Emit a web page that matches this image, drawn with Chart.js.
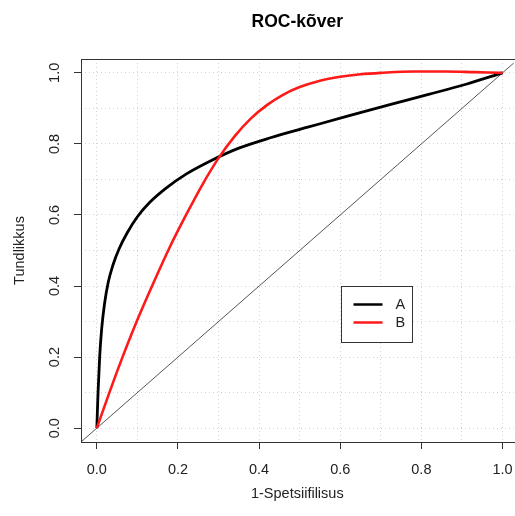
<!DOCTYPE html>
<html lang="et">
<head>
<meta charset="UTF-8">
<title>ROC-kõver</title>
<script src="https://cdn.jsdelivr.net/npm/chart.js@4.4.0/dist/chart.umd.min.js"></script>
<style>
  html, body { margin: 0; padding: 0; background: #fff; }
  canvas { display: block; }
</style>
</head>
<body>
<canvas id="roc" width="515" height="516"></canvas>
<script>
// kõver A
var fprA = [0, 0.003, 0.007, 0.012, 0.019, 0.028, 0.04, 0.055, 0.075, 0.1, 0.13, 0.17, 0.22, 0.28, 0.35, 0.43, 0.52, 0.62, 0.72, 0.82, 0.91, 1.0];
var tprA = [0, 0.1, 0.2, 0.28, 0.35, 0.41, 0.46, 0.505, 0.55, 0.595, 0.635, 0.675, 0.715, 0.752, 0.788, 0.818, 0.847, 0.879, 0.91, 0.94, 0.968, 1.0];
// kõver B
var fprB = [0, 0.03, 0.06, 0.1, 0.14, 0.18, 0.22, 0.26, 0.3, 0.34, 0.38, 0.42, 0.46, 0.5, 0.55, 0.6, 0.65, 0.7, 0.78, 0.86, 0.93, 1.0];
var tprB = [0, 0.097, 0.19, 0.305, 0.41, 0.51, 0.60, 0.685, 0.76, 0.822, 0.872, 0.91, 0.939, 0.96, 0.978, 0.989, 0.996, 1.0, 1.004, 1.004, 1.002, 1.0];
// diagonaal y = x
var diag = [-0.04, 1.04];

var seriesNames = ['A', 'B'];
var tickValues = [0, 0.2, 0.4, 0.6, 0.8, 1.0];
var tickLabels = ['0.0', '0.2', '0.4', '0.6', '0.8', '1.0'];
var gridValues = [0, 0.1, 0.2, 0.3, 0.4, 0.5, 0.6, 0.7, 0.8, 0.9, 1.0];
// R-i usr vahemik (4% laiendus)
var xUsr = [-0.039, 1.039];
var yUsr = [-0.039, 1.039];

var FONT = '"Liberation Sans", Arial, Helvetica, sans-serif';

function pts(xs, ys) {
    var out = [];
    for (var i = 0; i < xs.length; i++) out.push({x: xs[i], y: ys[i]});
    return out;
}
function tickIndex(v) {
    for (var i = 0; i < tickValues.length; i++) {
        if (Math.abs(tickValues[i] - v) < 1e-9) return i;
    }
    return -1;
}
function gridTicks(scale) {
    scale.ticks = gridValues.map(function (v) { return {value: v}; });
}

function axis(extra) {
    var base = {
        type: 'linear',
        afterBuildTicks: gridTicks,
        ticks: {
            autoSkip: false,
            includeBounds: false,
            color: '#222',
            font: {family: FONT, size: 14.5},
            callback: function (v) {
                var i = tickIndex(v);
                return i >= 0 ? tickLabels[i] : '';
            }
        },
        grid: {
            color: '#d3d3d3',
            lineWidth: 1,
            tickLength: 7,
            tickBorderDash: [],
            tickWidth: 1,
            tickColor: function (ctx) {
                return ctx.tick && tickIndex(ctx.tick.value) >= 0 ? '#333' : 'rgba(0,0,0,0)';
            }
        },
        border: {display: false, dash: [1, 3]}
    };
    return Object.assign(base, extra);
}

// raam ümber joonise ala
var boxPlugin = {
    id: 'box',
    afterDatasetsDraw: function (chart) {
        var xs = chart.scales.x, ys = chart.scales.y, c = chart.ctx;
        var l = Math.round(xs.getPixelForValue(xUsr[0])) + 0.5;
        var r = Math.round(xs.getPixelForValue(xUsr[1])) + 0.5;
        var t = Math.round(ys.getPixelForValue(yUsr[1])) + 0.5;
        var b = Math.round(ys.getPixelForValue(yUsr[0])) + 0.5;
        c.save();
        c.strokeStyle = '#333';
        c.lineWidth = 1;
        c.strokeRect(l, t, r - l, b - t);
        c.restore();
    }
};

// legend joonise sees
var legendPlugin = {
    id: 'innerLegend',
    afterDraw: function (chart) {
        var xs = chart.scales.x, ys = chart.scales.y, c = chart.ctx;
        var items = chart.data.datasets.filter(function (d) { return d.label; });
        items.sort(function (a, b) { return a.label < b.label ? -1 : 1; });
        var left = Math.round(xs.getPixelForValue(0.602)) + 0.5;
        var top = Math.round(ys.getPixelForValue(0.40)) + 0.5;
        var w = 71, rowH = 18, h = 56;
        c.save();
        c.fillStyle = '#fff';
        c.fillRect(left, top, w, h);
        c.strokeStyle = '#333';
        c.lineWidth = 1;
        c.strokeRect(left, top, w, h);
        c.font = '14.5px ' + FONT;
        c.textBaseline = 'middle';
        items.forEach(function (d, i) {
            var y = top + 18 + i * rowH;
            c.strokeStyle = d.borderColor;
            c.lineWidth = 2.5;
            c.beginPath();
            c.moveTo(left + 12, y);
            c.lineTo(left + 41, y);
            c.stroke();
            c.fillStyle = '#222';
            c.fillText(d.label, left + 54, y);
        });
        c.restore();
    }
};

new Chart(document.getElementById('roc'), {
    type: 'line',
    data: {
        datasets: [
            {
                label: seriesNames[1],
                data: pts(fprB, tprB),
                borderColor: '#ff1a1a',
                borderWidth: 2.6,
                pointRadius: 0,
                cubicInterpolationMode: 'monotone',
                fill: false,
                order: 0
            },
            {
                label: seriesNames[0],
                data: pts(fprA, tprA),
                borderColor: '#000',
                borderWidth: 2.8,
                pointRadius: 0,
                cubicInterpolationMode: 'monotone',
                fill: false,
                order: 1
            },
            {
                data: pts(diag, diag),
                borderColor: '#555',
                borderWidth: 1,
                pointRadius: 0,
                fill: false,
                order: 2
            }
        ]
    },
    options: {
        responsive: false,
        animation: false,
        devicePixelRatio: 1,
        layout: {padding: 0},
        plugins: {
            legend: {display: false},
            tooltip: {enabled: false},
            title: {
                display: true,
                text: 'ROC-kõver',
                fullSize: false,
                color: '#000',
                font: {family: FONT, size: 17.5, weight: 'bold', lineHeight: 1.2},
                padding: {top: 12, bottom: 26}
            }
        },
        scales: {
            x: axis({
                position: 'bottom',
                min: xUsr[0],
                max: 1.0273,
                title: {
                    display: true,
                    text: '1-Spetsiifilisus',
                    color: '#222',
                    font: {family: FONT, size: 14.5},
                    padding: {top: 0, bottom: 13}
                },
                afterFit: function (s) {
                    s.height = 74;
                    s.paddingLeft = 0; s.paddingRight = 0;
                }
            }),
            y: axis({
                position: 'left',
                min: yUsr[0],
                max: yUsr[1],
                title: {
                    display: true,
                    text: 'Tundlikkus',
                    color: '#222',
                    font: {family: FONT, size: 14.5},
                    padding: {top: 11, bottom: 0}
                },
                afterFit: function (s) {
                    s.width = 81;
                    s.paddingTop = 0; s.paddingBottom = 0;
                }
            })
        }
    },
    plugins: [boxPlugin, legendPlugin]
});

// y-telje sildid püsti nagu R-is
(function () {
    var ch = Chart.getChart('roc');
    ch.options.scales.y.ticks.minRotation = 90;
    ch.options.scales.y.ticks.maxRotation = 90;
    ch.options.scales.y.ticks.crossAlign = 'center';
    ch.options.scales.y.ticks.padding = 9;
    ch.options.scales.x.ticks.padding = 12;
    ch.update();
})();
</script>
</body>
</html>
